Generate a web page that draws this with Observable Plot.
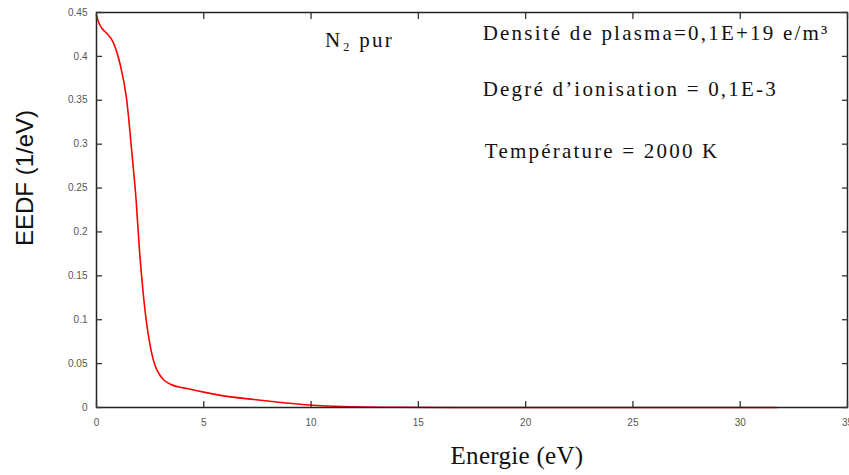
<!DOCTYPE html>
<html>
<head>
<meta charset="utf-8">
<script src="https://cdn.jsdelivr.net/npm/d3@7"></script>
<script src="https://cdn.jsdelivr.net/npm/@observablehq/plot@0.6"></script>
<style>
  html, body { margin: 0; padding: 0; background: #fff; }
  #chart svg { display: block; }
</style>
</head>
<body>
<div id="chart"></div>
<script>
// Energy (eV) and EEDF (1/eV)
const energy = [0, 0.1, 0.25, 0.45, 0.78, 1.1, 1.4, 1.65, 1.85, 2.0, 2.15, 2.3, 2.52, 2.83, 3.45, 4.38, 5, 6, 7.2, 8.5, 9.6, 10.5, 12, 14, 20, 25, 31.7];
const eedf   = [0.447, 0.439, 0.432, 0.427, 0.416, 0.391, 0.352, 0.29, 0.235, 0.18, 0.137, 0.1025, 0.068, 0.042, 0.0265, 0.0208, 0.0175, 0.013, 0.0095, 0.006, 0.0035, 0.002, 0.0008, 0.0002, 0, 0, 0];

const xTicks = [0, 5, 10, 15, 20, 25, 30, 35];
const yTicks = [0, 0.05, 0.1, 0.15, 0.2, 0.25, 0.3, 0.35, 0.4, 0.45];

const xLabel = "Energie (eV)";
const yLabel = "EEDF (1/eV)";

const annotations = [
  {x: 18.0, y: 0.426, text: "Densité de plasma=0,1E+19 e/m³"},
  {x: 18.0, y: 0.362, text: "Degré d’ionisation = 0,1E-3"},
  {x: 18.1, y: 0.292, text: "Température = 2000 K"}
];
const species = [{x: 10.65, y: 0.418, text: "N₂ pur"}];

const data = energy.map((e, i) => ({energy: e, eedf: eedf[i]}));

const tickFont = "'Liberation Sans Narrow', 'Liberation Sans', sans-serif";
const serif = "'Liberation Serif', 'Times New Roman', serif";

const plot = Plot.plot({
  width: 849,
  height: 475,
  marginLeft: 96,
  marginRight: 2,
  marginTop: 12,
  marginBottom: 68,
  style: {background: "#fff", overflow: "visible"},
  x: {domain: [0, 35]},
  y: {domain: [0, 0.45]},
  marks: [
    Plot.line(data, {x: "energy", y: "eedf", stroke: "#ff0000", strokeWidth: 1.6, curve: "monotone-x"}),
    Plot.frame({stroke: "#222", strokeWidth: 1.5}),
    Plot.axisX(xTicks, {anchor: "bottom", tickSize: -6, tickPadding: 17, stroke: "#333", strokeWidth: 1.3,
      fill: "#555", fontSize: 10, fontFamily: tickFont, label: null, tickFormat: d => String(d)}),
    Plot.axisX(xTicks, {anchor: "top", tickSize: -6, stroke: "#333", strokeWidth: 1.3, tickFormat: () => "", label: null}),
    Plot.axisY(yTicks, {anchor: "left", tickSize: -6, tickPadding: 15, stroke: "#333", strokeWidth: 1.3,
      fill: "#555", fontSize: 10, fontFamily: tickFont, label: null, tickFormat: d => String(d)}),
    Plot.axisY(yTicks, {anchor: "right", tickSize: -6, stroke: "#333", strokeWidth: 1.3, tickFormat: () => "", label: null}),
    Plot.text(annotations, {x: "x", y: "y", text: "text", textAnchor: "start", fontSize: 21,
      fontFamily: serif, fill: "#111"}),
    Plot.text(species, {x: "x", y: "y", text: "text", textAnchor: "start", fontSize: 21,
      fontFamily: serif, fill: "#111"}),
    Plot.text([xLabel], {frameAnchor: "bottom", dx: 45, dy: 56, text: d => d, fontSize: 25,
      fontFamily: serif, fill: "#111"}),
    Plot.text([yLabel], {frameAnchor: "left", textAnchor: "middle", dx: -71, dy: -32, rotate: -90, text: d => d, fontSize: 24,
      fontFamily: "'Liberation Sans', Arial, sans-serif", fill: "#111"})
  ]
});
document.getElementById("chart").appendChild(plot);

// letter spacing to match the stretched look of the reference's annotation text
const textGroups = d3.select(plot).selectAll('g[aria-label="text"]').nodes();
d3.select(textGroups[0]).attr("letter-spacing", "2.2px");
d3.select(textGroups[1]).attr("letter-spacing", "2.2px");
d3.select(textGroups[2]).attr("letter-spacing", "0.3px");
</script>
</body>
</html>
